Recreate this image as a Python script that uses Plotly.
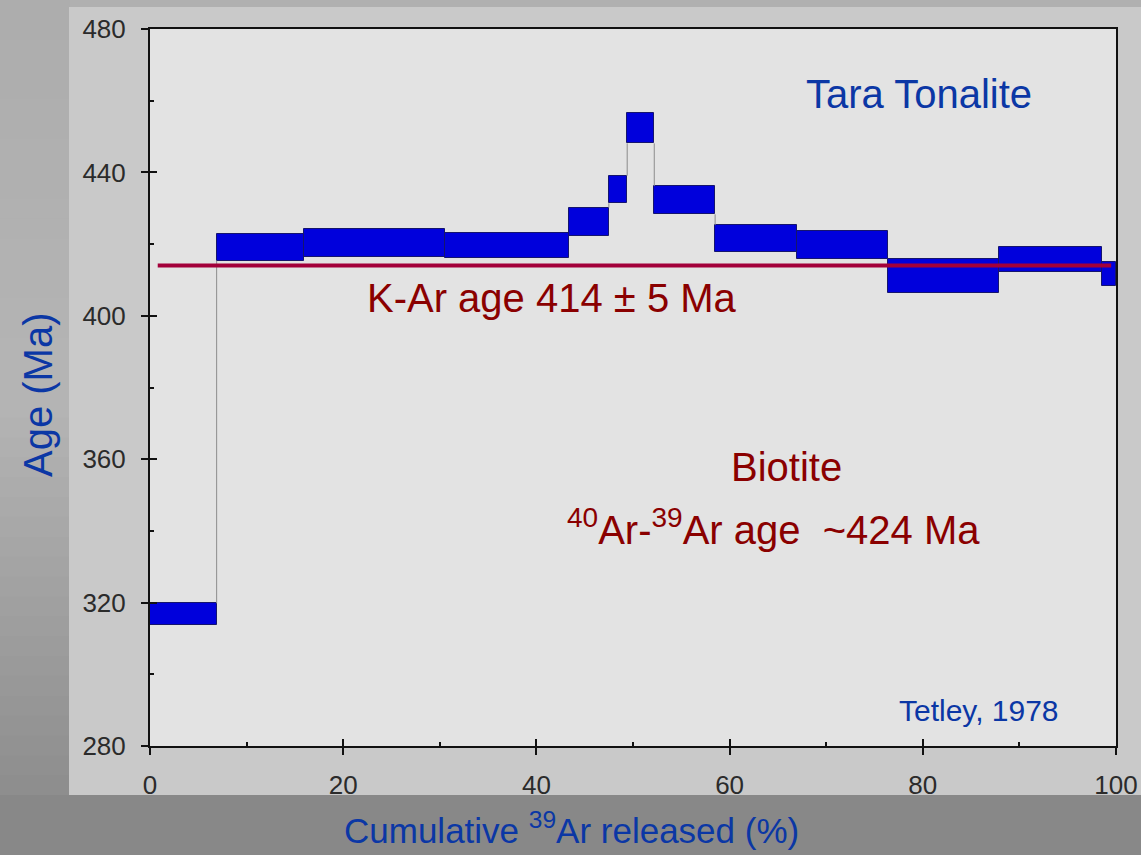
import plotly.graph_objects as go

# Step-heating increments: cumulative 39Ar released (%) and age band (Ma)
step_start = [0.0, 6.9, 15.9, 30.5, 43.4, 47.5, 49.4, 52.2, 58.5, 67.0, 76.4, 87.9, 98.6]
age_low = [313.8, 415.4, 416.4, 416.0, 422.3, 431.4, 448.1, 428.3, 417.7, 415.8, 406.4, 412.3, 408.3]
age_high = [319.8, 422.8, 424.3, 423.0, 430.2, 439.1, 456.5, 436.2, 425.3, 423.7, 415.8, 419.3, 415.1]
step_end = step_start[1:] + [100.0]

# Conventional K-Ar age reference line
kar_age = 414
kar_x = [0.8, 99.5]

x_ticks = [0, 20, 40, 60, 80, 100]
y_ticks = [280, 320, 360, 400, 440, 480]

W, H = 1141, 855
ML, MR, MT, MB = 150, 25, 29, 109


def px_x(p):
    return (p - ML) / (W - ML - MR)


def px_y(p):
    return (H - MB - p) / (H - MT - MB)


FONT = "Arial, Liberation Sans, sans-serif"
BLUE = "#0b37a5"
DARKRED = "#8a0000"

centers = [(a + b) / 2 for a, b in zip(step_start, step_end)]
widths = [b - a for a, b in zip(step_start, step_end)]
heights = [h - l for l, h in zip(age_low, age_high)]

# Thin grey risers joining neighbouring increments
conn_x, conn_y = [], []
for i in range(len(step_start) - 1):
    xb = step_end[i]
    if age_low[i + 1] > age_high[i]:
        y0, y1 = age_high[i], age_low[i + 1]
    elif age_high[i + 1] < age_low[i]:
        y0, y1 = age_low[i], age_high[i + 1]
    else:
        continue
    conn_x += [xb, xb, None]
    conn_y += [y0, y1, None]

fig = go.Figure()
fig.add_trace(go.Scatter(x=conn_x, y=conn_y, mode="lines",
                         line=dict(color="#8c8c8c", width=1), hoverinfo="skip"))
fig.add_trace(go.Bar(x=centers, y=heights, base=age_low, width=widths,
                     marker=dict(color="#0000dc", line=dict(color="#15156e", width=1))))
fig.add_trace(go.Scatter(x=kar_x, y=[kar_age, kar_age], mode="lines",
                         line=dict(color="#a3003a", width=4), hoverinfo="skip"))
# carrier for the overlaid inner-tick axes
fig.add_trace(go.Scatter(x=[None], y=[None], xaxis="x2", yaxis="y2", mode="lines"))

# Slide background: grey frame, lighter panel, pale plotting field
shapes = []
n_bands = 40
top_c, mid_c, bot_c = 0xad, 0xb5, 0x8d
for k in range(n_bands):
    p0 = 795 * k / n_bands
    p1 = 795 * (k + 1) / n_bands + 1.5
    t = (k + 0.5) / n_bands
    if t < 0.5:
        v = top_c + (mid_c - top_c) * (t / 0.5)
    else:
        v = mid_c + (bot_c - mid_c) * ((t - 0.5) / 0.5)
    c = "#%02x%02x%02x" % (int(v), int(v), int(v))
    shapes.append(dict(type="rect", xref="paper", yref="paper", layer="below",
                       x0=px_x(-10), x1=px_x(72), y0=px_y(min(p1, 795)), y1=px_y(p0),
                       fillcolor=c, line=dict(width=0)))
shapes.append(dict(type="rect", xref="paper", yref="paper", layer="below",
                   x0=px_x(70), x1=px_x(W + 10), y0=px_y(7), y1=px_y(-10),
                   fillcolor="#b0b0b0", line=dict(width=0)))
shapes.append(dict(type="rect", xref="paper", yref="paper", layer="below",
                   x0=px_x(69), x1=px_x(W + 10), y0=px_y(795), y1=px_y(7),
                   fillcolor="#c9c9c9", line=dict(width=0)))
shapes.append(dict(type="rect", xref="paper", yref="paper", layer="below",
                   x0=0, x1=1, y0=0, y1=1,
                   fillcolor="#e3e3e3", line=dict(width=0)))

annotations = [
    dict(text="Tara Tonalite", x=79.6, y=461.9, xref="x", yref="y",
         font=dict(family=FONT, size=40, color=BLUE)),
    dict(text="K-Ar age 414 \u00b1 5 Ma", x=41.6, y=405.0, xref="x", yref="y",
         font=dict(family=FONT, size=40, color=DARKRED)),
    dict(text="Biotite", x=65.9, y=357.8, xref="x", yref="y",
         font=dict(family=FONT, size=40, color=DARKRED)),
    dict(text="<sup>40</sup>Ar-<sup>39</sup>Ar age  ~424 Ma", x=64.5, y=341.0, xref="x", yref="y",
         font=dict(family=FONT, size=40, color=DARKRED)),
    dict(text="Tetley, 1978", x=85.8, y=289.8, xref="x", yref="y",
         font=dict(family=FONT, size=30, color=BLUE)),
    dict(text="Age (Ma)", x=px_x(38), y=px_y(395), xref="paper", yref="paper",
         textangle=-90, font=dict(family=FONT, size=40, color=BLUE)),
    dict(text="Cumulative <sup>39</sup>Ar released (%)", x=px_x(571), y=px_y(828),
         xref="paper", yref="paper",
         font=dict(family=FONT, size=35, color=BLUE)),
]
for a in annotations:
    a.update(showarrow=False, xanchor="center", yanchor="middle")

axis_common = dict(showgrid=False, zeroline=False, showline=True, linecolor="#111111",
                   linewidth=2, mirror=True, automargin=False)

fig.update_layout(
    template="none",
    autosize=False,
    width=W, height=H,
    margin=dict(l=ML, r=MR, t=MT, b=MB, pad=0, autoexpand=False),
    paper_bgcolor="#888888",
    plot_bgcolor="#e3e3e3",
    showlegend=False,
    bargap=0,
    shapes=shapes,
    annotations=annotations,
    xaxis=dict(range=[0, 100], tickvals=x_ticks, ticks="outside", ticklen=7, tickwidth=2,
               tickcolor="#111111", ticklabelstandoff=8,
               tickfont=dict(family=FONT, size=26, color="#2b2b2b"), **axis_common),
    yaxis=dict(range=[280, 480], tickvals=y_ticks, ticks="outside", ticklen=7, tickwidth=2,
               tickcolor="#111111", ticklabelstandoff=10,
               tickfont=dict(family=FONT, size=26, color="#2b2b2b"), **axis_common),
    xaxis2=dict(range=[0, 100], overlaying="x", tickvals=x_ticks, ticks="inside", ticklen=7,
                tickwidth=2, tickcolor="#111111", showticklabels=False, showgrid=False,
                zeroline=False, showline=False, automargin=False,
                minor=dict(ticks="inside", ticklen=4, tickwidth=2, tickcolor="#111111",
                           tickvals=[10, 30, 50, 70, 90])),
    yaxis2=dict(range=[280, 480], overlaying="y", tickvals=y_ticks, ticks="inside", ticklen=7,
                tickwidth=2, tickcolor="#111111", showticklabels=False, showgrid=False,
                zeroline=False, showline=False, side="left", automargin=False,
                minor=dict(ticks="inside", ticklen=4, tickwidth=2, tickcolor="#111111",
                           tickvals=[300, 340, 380, 420, 460])),
)

fig.write_html("out.html")
